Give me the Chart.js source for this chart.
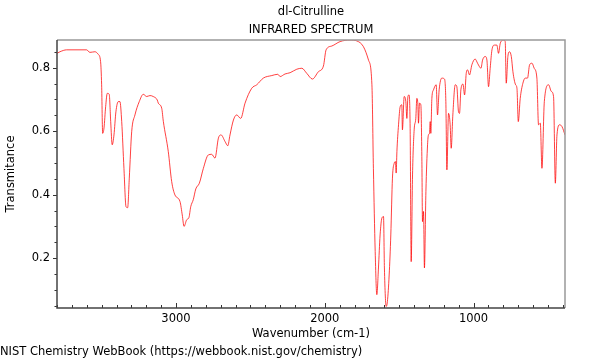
<!DOCTYPE html>
<html>
<head>
<meta charset="utf-8">
<script src="https://cdn.jsdelivr.net/npm/chart.js@4"></script>
<style>
  html, body { margin: 0; padding: 0; background: #fff; }
</style>
</head>
<body>
<canvas id="irChart" width="600" height="360"></canvas>
<script>
// spectrum (wavenumber in cm-1, transmittance)
const wavenumbers = [
  3800, 3780, 3735, 3601, 3579, 3545, 3523, 3507, 3500, 3493, 3484, 3473, 3462, 3449, 3439, 3429,
  3417, 3404, 3388, 3377, 3365, 3350, 3336, 3325, 3314, 3298, 3276, 3247, 3220, 3197, 3175, 3153,
  3126, 3119, 3096, 3085, 3052, 3029, 3007, 2973, 2958, 2946, 2928, 2913, 2901, 2884, 2867, 2843,
  2816, 2783, 2760, 2738, 2715, 2697, 2670, 2652, 2637, 2614, 2592, 2565, 2536, 2491, 2457, 2413,
  2356, 2316, 2300, 2267, 2233, 2188, 2154, 2121, 2083, 2043, 2009, 1991, 1953, 1897, 1830, 1784,
  1740, 1706, 1683, 1673, 1661, 1650, 1639, 1628, 1616, 1605, 1599, 1587, 1579, 1567, 1556, 1545,
  1533, 1525, 1520, 1515, 1504, 1493, 1482, 1478, 1466, 1455, 1448, 1441, 1433, 1426, 1419, 1410,
  1399, 1388, 1381, 1374, 1370, 1363, 1354, 1347, 1343, 1336, 1330, 1320, 1309, 1303, 1296, 1291,
  1287, 1280, 1269, 1251, 1242, 1231, 1213, 1195, 1186, 1179, 1168, 1157, 1150, 1139, 1123, 1112,
  1101, 1094, 1085, 1071, 1060, 1049, 1040, 1027, 1011, 989, 973, 960, 950, 939, 921, 910,
  899, 888, 876, 859, 843, 832, 820, 798, 787, 780, 769, 758, 746, 735, 726, 717,
  708, 699, 686, 668, 652, 637, 623, 607, 592, 574, 563, 551, 540, 524, 495, 477,
  462, 450, 439, 421, 405, 385
];
const transmittance = [
  0.845, 0.850, 0.856, 0.856, 0.848, 0.850, 0.842, 0.819, 0.746, 0.593, 0.610, 0.677, 0.719, 0.716, 0.630, 0.557,
  0.588, 0.661, 0.693, 0.693, 0.630, 0.483, 0.362, 0.359, 0.452, 0.598, 0.651, 0.693, 0.716, 0.709, 0.712, 0.709,
  0.698, 0.688, 0.672, 0.630, 0.536, 0.441, 0.399, 0.378, 0.336, 0.300, 0.321, 0.328, 0.362, 0.384, 0.418, 0.436,
  0.483, 0.525, 0.527, 0.515, 0.578, 0.588, 0.567, 0.554, 0.588, 0.635, 0.651, 0.640, 0.688, 0.735, 0.746, 0.767,
  0.775, 0.779, 0.772, 0.780, 0.784, 0.795, 0.798, 0.782, 0.764, 0.787, 0.805, 0.856, 0.868, 0.882, 0.887, 0.884,
  0.866, 0.824, 0.746, 0.483, 0.221, 0.085, 0.169, 0.273, 0.326, 0.331, 0.169, 0.048, 0.063, 0.147, 0.273, 0.452,
  0.499, 0.504, 0.468, 0.536, 0.620, 0.677, 0.683, 0.604, 0.709, 0.693, 0.640, 0.709, 0.714, 0.609, 0.189, 0.462,
  0.604, 0.640, 0.703, 0.683, 0.625, 0.688, 0.683, 0.504, 0.315, 0.347, 0.169, 0.410, 0.557, 0.588, 0.593, 0.630,
  0.593, 0.703, 0.730, 0.746, 0.651, 0.730, 0.767, 0.764, 0.693, 0.478, 0.656, 0.620, 0.546, 0.651, 0.746, 0.740,
  0.661, 0.656, 0.730, 0.748, 0.714, 0.782, 0.793, 0.777, 0.809, 0.827, 0.814, 0.803, 0.798, 0.824, 0.835, 0.824,
  0.740, 0.798, 0.856, 0.871, 0.871, 0.845, 0.877, 0.887, 0.882, 0.751, 0.835, 0.850, 0.835, 0.787, 0.761, 0.746,
  0.735, 0.630, 0.703, 0.751, 0.767, 0.767, 0.809, 0.814, 0.798, 0.767, 0.620, 0.625, 0.483, 0.693, 0.746, 0.725,
  0.709, 0.436, 0.588, 0.620, 0.614, 0.588
];
const xTicks = [3000, 2000, 1000];
const yTicks = [0.2, 0.4, 0.6, 0.8];
const titleLines = ['dl-Citrulline', 'INFRARED SPECTRUM'];
const footerText = 'NIST Chemistry WebBook (https://webbook.nist.gov/chemistry)';

const FONT = 'DejaVu Sans';
const FSIZE = 11.5;

// inward minor/major ticks on x, outward on y, plus the box
const frameTicks = {
  id: 'frameTicks',
  afterDraw(chart) {
    const { ctx, chartArea: a, scales: { x, y } } = chart;
    ctx.save();
    ctx.lineWidth = 1;
    ctx.strokeStyle = '#333';
    ctx.beginPath();
    for (let v = 400; v <= 3800; v += 100) {
      const px = Math.round(x.getPixelForValue(v)) + 0.5;
      const len = v % 1000 === 0 ? 5 : 3;
      ctx.moveTo(px, a.bottom);
      ctx.lineTo(px, a.bottom - len);
    }
    for (let k = 1; k <= 17; k++) {
      const py = Math.round(y.getPixelForValue(k * 0.05)) + 0.5;
      if (py < a.top || py > a.bottom) continue;
      const len = k % 4 === 0 ? 4 : 2.5;
      ctx.moveTo(a.left, py);
      ctx.lineTo(a.left - len, py);
    }
    ctx.stroke();

    ctx.lineWidth = 1.5;
    ctx.strokeStyle = '#999';
    ctx.beginPath();
    ctx.moveTo(a.left, a.top);
    ctx.lineTo(a.right, a.top);
    ctx.lineTo(a.right, a.bottom);
    ctx.stroke();
    ctx.strokeStyle = '#444';
    ctx.beginPath();
    ctx.moveTo(a.left, a.top);
    ctx.lineTo(a.left, a.bottom);
    ctx.lineTo(a.right, a.bottom);
    ctx.stroke();
    ctx.restore();
  }
};

const points = wavenumbers.map((w, i) => ({ x: w, y: transmittance[i] }));

new Chart(document.getElementById('irChart'), {
  type: 'line',
  data: {
    datasets: [{
      data: points,
      borderColor: 'rgba(255, 0, 0, 0.75)',
      borderWidth: 1,
      pointRadius: 0,
      cubicInterpolationMode: 'monotone',
      fill: false
    }]
  },
  options: {
    responsive: false,
    animation: false,
    devicePixelRatio: 1,
    layout: { padding: { left: 0, right: 35, top: 0, bottom: 0 } },
    scales: {
      x: {
        type: 'linear',
        reverse: true,
        min: 385,
        max: 3800,
        afterBuildTicks: (scale) => { scale.ticks = xTicks.map(v => ({ value: v })); },
        afterFit: (scale) => { scale.height = 34.2; },
        grid: { display: false, drawTicks: false, tickLength: 0 },
        border: { display: false },
        ticks: {
          autoSkip: false,
          maxRotation: 0,
          padding: 4,
          color: '#000',
          font: { family: FONT, size: FSIZE },
          callback: (v) => String(v)
        },
        title: {
          display: true,
          text: 'Wavenumber (cm-1)',
          color: '#000',
          font: { family: FONT, size: FSIZE },
          padding: { top: 0, bottom: 1.5 }
        }
      },
      y: {
        min: 0.043,
        max: 0.887,
        afterBuildTicks: (scale) => { scale.ticks = yTicks.map(v => ({ value: v })); },
        afterFit: (scale) => { scale.width = 57; },
        grid: { display: false, drawTicks: false, tickLength: 0 },
        border: { display: false },
        ticks: {
          padding: 7,
          color: '#000',
          font: { family: FONT, size: FSIZE },
          callback: (v) => v.toFixed(1)
        },
        title: {
          display: true,
          text: 'Transmitance',
          color: '#000',
          font: { family: FONT, size: FSIZE },
          padding: { top: 4, bottom: 0 }
        }
      }
    },
    plugins: {
      legend: { display: false },
      tooltip: { enabled: false },
      title: {
        display: true,
        fullSize: false,
        text: titleLines,
        color: '#000',
        font: { family: FONT, size: FSIZE, weight: 'normal', lineHeight: '18px' },
        padding: { top: 3, bottom: 1 }
      },
      subtitle: {
        display: true,
        position: 'bottom',
        align: 'start',
        text: footerText,
        color: '#000',
        font: { family: FONT, size: FSIZE, weight: 'normal' },
        padding: { top: 3, bottom: 1 }
      }
    }
  },
  plugins: [frameTicks]
});
</script>
</body>
</html>
